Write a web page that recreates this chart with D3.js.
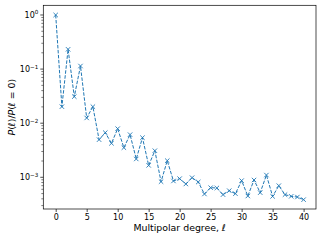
<!DOCTYPE html>
<html>
<head>
<meta charset="utf-8">
<script src="https://cdn.jsdelivr.net/npm/d3@7"></script>
<style>
  body { margin: 0; background: #fff; }
  text { font-family: "DejaVu Sans", sans-serif; fill: #000; }
</style>
</head>
<body>
<svg id="chart"></svg>
<script>
// multipolar degree and normalised power
const degrees = d3.range(0, 41);
const power = [
  1.0, 0.0202, 0.232, 0.031, 0.114, 0.0125, 0.0202, 0.00496, 0.00668, 0.00425,
  0.00792, 0.00353, 0.00614, 0.00218, 0.0054, 0.00166, 0.0031, 0.00083, 0.00203, 0.000855,
  0.000944, 0.000752, 0.000984, 0.000818, 0.000491, 0.000643, 0.000634, 0.000478, 0.000566, 0.000498,
  0.000867, 0.000451, 0.000891, 0.00052, 0.0011, 0.000444, 0.0007, 0.000478, 0.000445, 0.000432,
  0.000386
];
const xTicks = [0, 5, 10, 15, 20, 25, 30, 35, 40];
const yTickExps = [0, -1, -2, -3];

const width = 323, height = 242;
const margin = { top: 5.3, right: 7, bottom: 33, left: 43.3 };

const svg = d3.select('#chart')
  .attr('width', width)
  .attr('height', height);

const x = d3.scaleLinear()
  .domain([-2, 42])
  .range([margin.left, width - margin.right]);

const y = d3.scaleLog()
  .domain([Math.pow(10, -3.586), Math.pow(10, 0.179)])
  .range([height - margin.bottom, margin.top]);

const color = '#1f77b4';

// x axis
const xAxis = d3.axisBottom(x)
  .tickValues(xTicks)
  .tickSize(3)
  .tickPadding(2);

svg.append('g')
  .attr('transform', `translate(0,${height - margin.bottom})`)
  .call(xAxis)
  .call(g => g.select('.domain').remove())
  .call(g => g.selectAll('line').attr('stroke', '#000').attr('stroke-width', 0.7))
  .call(g => g.selectAll('text').style('font-size', '8px').attr('fill', '#000'));

// y axis, major ticks with superscript labels
const yMajor = yTickExps.map(e => Math.pow(10, e));
const yMinor = [];
[-4, -3, -2, -1, 0].forEach(e => {
  for (let m = 2; m <= 9; m++) {
    const v = m * Math.pow(10, e);
    if (v >= y.domain()[0] && v <= y.domain()[1]) yMinor.push(v);
  }
});

const yAxisG = svg.append('g');

yAxisG.selectAll('.minor')
  .data(yMinor)
  .join('line')
  .attr('x1', margin.left - 2)
  .attr('x2', margin.left)
  .attr('y1', d => y(d))
  .attr('y2', d => y(d))
  .attr('stroke', '#000')
  .attr('stroke-width', 0.5);

yAxisG.selectAll('.major')
  .data(yMajor)
  .join('line')
  .attr('x1', margin.left - 3)
  .attr('x2', margin.left)
  .attr('y1', d => y(d))
  .attr('y2', d => y(d))
  .attr('stroke', '#000')
  .attr('stroke-width', 0.7);

const yLabels = yAxisG.selectAll('.ylab')
  .data(yTickExps)
  .join('text')
  .attr('x', margin.left - 5)
  .attr('y', d => y(Math.pow(10, d)) + 3)
  .attr('text-anchor', 'end')
  .style('font-size', '8px');

yLabels.append('tspan').text('10');
yLabels.append('tspan')
  .attr('dy', -3.5)
  .style('font-size', '5.6px')
  .text(d => d === 0 ? '0' : '\u2212' + Math.abs(d));

// frame
svg.append('rect')
  .attr('x', margin.left)
  .attr('y', margin.top)
  .attr('width', width - margin.right - margin.left)
  .attr('height', height - margin.bottom - margin.top)
  .attr('fill', 'none')
  .attr('stroke', '#000')
  .attr('stroke-width', 0.7);

// dashed line with x markers
const line = d3.line()
  .x((d, i) => x(degrees[i]))
  .y(d => y(d));

svg.append('path')
  .datum(power)
  .attr('d', line)
  .attr('fill', 'none')
  .attr('stroke', color)
  .attr('stroke-width', 1)
  .attr('stroke-dasharray', '3.5,1.5');

const s = 2.2;
svg.append('g')
  .selectAll('path')
  .data(power)
  .join('path')
  .attr('transform', (d, i) => `translate(${x(degrees[i])},${y(d)})`)
  .attr('d', `M${-s},${-s}L${s},${s}M${-s},${s}L${s},${-s}`)
  .attr('stroke', color)
  .attr('stroke-width', 0.9)
  .attr('fill', 'none');

// axis labels
const xl = svg.append('text')
  .attr('x', (margin.left + width - margin.right) / 2)
  .attr('y', 231)
  .attr('text-anchor', 'middle')
  .style('font-size', '9.4px');
xl.append('tspan').text('Multipolar degree, ');
xl.append('tspan').style('font-style', 'italic').text('\u2113');

const yl = svg.append('text')
  .attr('transform', `translate(15,${(margin.top + height - margin.bottom) / 2}) rotate(-90)`)
  .attr('text-anchor', 'middle')
  .style('font-size', '9.4px');
yl.append('tspan').style('font-style', 'italic').text('P');
yl.append('tspan').text('(');
yl.append('tspan').style('font-style', 'italic').text('\u2113');
yl.append('tspan').text(')/');
yl.append('tspan').style('font-style', 'italic').text('P');
yl.append('tspan').text('(');
yl.append('tspan').style('font-style', 'italic').text('\u2113');
yl.append('tspan').text(' = 0)');
</script>
</body>
</html>
